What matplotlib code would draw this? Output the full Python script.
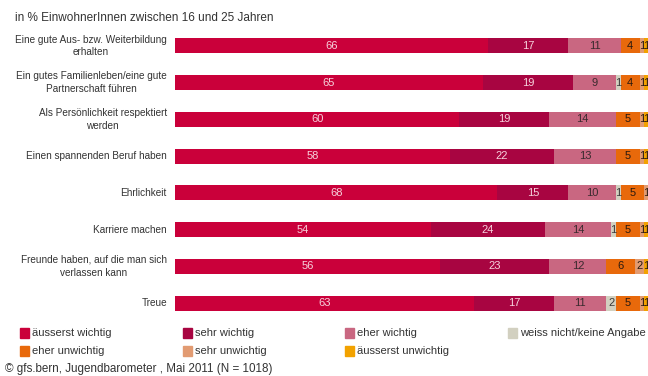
import matplotlib
matplotlib.use("Agg")
import matplotlib.pyplot as plt
from matplotlib.patches import Rectangle

plt.rcParams['font.family'] = ['Liberation Sans', 'DejaVu Sans']

categories = [
    "Eine gute Aus- bzw. Weiterbildung\nerhalten",
    "Ein gutes Familienleben/eine gute\nPartnerschaft führen",
    "Als Persönlichkeit respektiert\nwerden",
    "Einen spannenden Beruf haben",
    "Ehrlichkeit",
    "Karriere machen",
    "Freunde haben, auf die man sich\nverlassen kann",
    "Treue",
]

series_names = [
    "äusserst wichtig", "sehr wichtig", "eher wichtig",
    "weiss nicht/keine Angabe", "eher unwichtig", "sehr unwichtig",
    "äusserst unwichtig",
]

aeusserst_wichtig = [66, 65, 60, 58, 68, 54, 56, 63]
sehr_wichtig = [17, 19, 19, 22, 15, 24, 23, 17]
eher_wichtig = [11, 9, 14, 13, 10, 14, 12, 11]
weiss_nicht = [0, 1, 0, 0, 1, 1, 0, 2]
eher_unwichtig = [4, 4, 5, 5, 5, 5, 6, 5]
sehr_unwichtig = [1, 1, 1, 1, 1, 1, 2, 1]
aeusserst_unwichtig = [1, 1, 1, 1, 0, 1, 1, 1]

series = [aeusserst_wichtig, sehr_wichtig, eher_wichtig, weiss_nicht,
          eher_unwichtig, sehr_unwichtig, aeusserst_unwichtig]
colors = ["#CA003A", "#A80541", "#C96781", "#D2D0C0",
          "#E8690B", "#E29B72", "#F2A200"]
text_colors = ["#F6D2DC", "#F6D2DC", "#3A2A2E", "#3A3A3A",
               "#2A1A10", "#2A1A10", "#2A1A10"]

W, H = 648, 376
fig = plt.figure(figsize=(W / 100, H / 100), dpi=100)
top_px, bottom_px = 27.6, 321.4
ax = fig.add_axes([175 / W, 1 - bottom_px / H, 474 / W, (bottom_px - top_px) / H])

n = len(categories)
ys = list(range(n))
left = [0] * n
for vals, col, tcol in zip(series, colors, text_colors):
    ax.barh(ys, vals, left=left, height=0.41, color=col, edgecolor="none")
    for i, v in enumerate(vals):
        if v > 0:
            ax.text(left[i] + v / 2, ys[i], str(v), ha="center", va="center",
                    fontsize=8, color=tcol)
    left = [l + v for l, v in zip(left, vals)]

ax.set_xlim(0, 100)
ax.set_ylim(n - 0.5, -0.5)
ax.axis("off")

for i, cat in enumerate(categories):
    ax.text(-1.7, ys[i], cat, ha="right", va="center", fontsize=7.2,
            color="#333333", linespacing=1.35,
            multialignment="center")

fig.text(15 / W, 1 - 18 / H, "in % EinwohnerInnen zwischen 16 und 25 Jahren",
         fontsize=8.5, color="#333333", va="center", ha="left")

# legend in two rows of four columns
leg_x = [20, 183, 345, 508]
leg_y = [333, 351]
for k, (name, col) in enumerate(zip(series_names, colors)):
    r, c = divmod(k, 4)
    x = leg_x[c]
    y = leg_y[r]
    fig.patches.append(Rectangle((x / W, 1 - (y + 4.5) / H), 9 / W, 9.5 / H,
                                 transform=fig.transFigure, color=col,
                                 figure=fig))
    fig.text((x + 12) / W, 1 - y / H, name, fontsize=8, color="#333333",
             va="center", ha="left")

fig.text(5 / W, 1 - 369 / H,
         "© gfs.bern, Jugendbarometer , Mai 2011 (N = 1018)",
         fontsize=8.4, color="#333333", va="center", ha="left")

fig.savefig("out.png", dpi=100)
